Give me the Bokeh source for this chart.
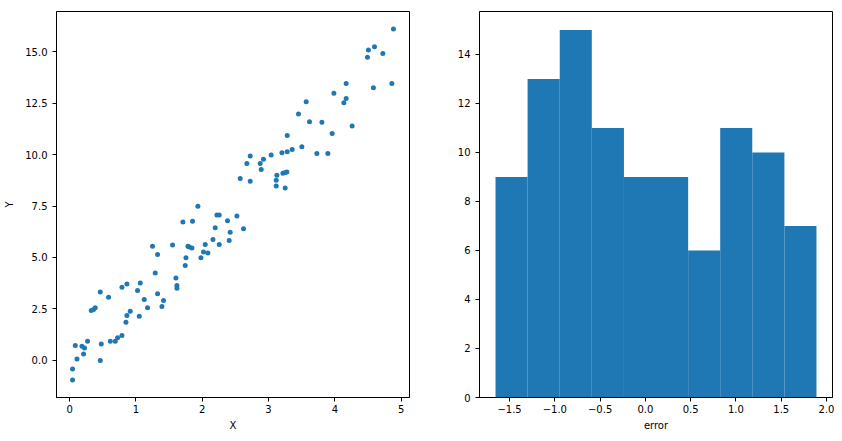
from bokeh.plotting import figure
from bokeh.layouts import row
from bokeh.models import Range1d, FixedTicker, ColumnDataSource
from bokeh.embed import file_html
from bokeh.resources import INLINE

# ---- scatter data ----
x_vals = [1.935, 1.709, 1.854, 2.222, 2.257, 2.382, 2.196, 2.422, 2.407, 2.162,
          2.257, 2.046, 2.020, 2.086, 1.981, 1.785, 1.804, 1.845, 1.553, 1.251,
          1.327, 1.755, 1.744, 1.292, 1.604, 1.619, 1.619, 1.327, 1.417, 1.393,
          1.066, 1.025, 1.126, 1.176, 1.051, 0.915, 0.865, 0.850, 0.790, 0.865,
          0.463, 0.588, 0.327, 0.362, 0.387, 0.790, 0.724, 0.689, 0.614, 0.478,
          0.463, 0.271, 0.187, 0.226, 0.086, 0.211, 0.112, 0.045, 0.045,
          4.884, 4.507, 4.598, 4.724, 4.492, 4.171, 4.582, 4.860, 3.986, 4.171,
          4.136, 3.568, 3.452, 3.618, 3.805, 4.261, 3.960, 3.282, 3.503, 3.357,
          3.282, 3.202, 3.729, 3.895, 3.040, 2.724, 2.924, 2.674, 2.875, 2.890,
          2.573, 2.724, 3.126, 3.217, 3.251, 3.277, 3.116, 3.116, 3.251, 2.523,
          2.623]
y_vals = [7.49, 6.72, 6.76, 7.06, 7.06, 6.78, 6.44, 6.23, 5.82, 5.87,
          5.63, 5.63, 5.26, 5.22, 4.98, 5.55, 5.51, 5.46, 5.60, 5.55,
          5.14, 4.98, 4.61, 4.25, 4.00, 3.64, 3.50, 3.23, 2.91, 2.61,
          3.76, 3.39, 2.95, 2.55, 2.14, 2.38, 2.18, 1.85, 3.55, 3.71,
          3.32, 3.07, 2.42, 2.47, 2.55, 1.20, 1.09, 0.92, 0.92, 0.79,
          -0.01, 0.92, 0.68, 0.60, 0.72, 0.31, 0.06, -0.42, -0.96,
          16.11, 15.09, 15.25, 14.92, 14.73, 13.46, 13.25, 13.46, 12.98, 12.73,
          12.52, 12.57, 11.97, 11.60, 11.57, 11.39, 11.03, 10.93, 10.38, 10.25,
          10.14, 10.09, 10.06, 10.06, 9.98, 9.93, 9.77, 9.57, 9.57, 9.28,
          8.84, 8.71, 9.00, 9.09, 9.13, 9.15, 8.76, 8.47, 8.38, 7.01,
          6.39]

# ---- histogram of errors ----
bin_edges = [-1.655, -1.301, -0.946, -0.592, -0.237, 0.117, 0.472, 0.826, 1.180, 1.535, 1.889]
bin_counts = [9, 13, 15, 11, 9, 9, 6, 11, 10, 7]

scatter_xticks = [0, 1, 2, 3, 4, 5]
scatter_xlabels = ["0", "1", "2", "3", "4", "5"]
scatter_yticks = [0.0, 2.5, 5.0, 7.5, 10.0, 12.5, 15.0]
scatter_ylabels = ["0.0", "2.5", "5.0", "7.5", "10.0", "12.5", "15.0"]
hist_xticks = [-1.5, -1.0, -0.5, 0.0, 0.5, 1.0, 1.5, 2.0]
hist_xlabels = ["\u22121.5", "\u22121.0", "\u22120.5", "0.0", "0.5", "1.0", "1.5", "2.0"]
hist_yticks = [0, 2, 4, 6, 8, 10, 12, 14]
hist_ylabels = ["0", "2", "4", "6", "8", "10", "12", "14"]

BLUE = "#1f77b4"
FONT = "DejaVu Sans"


def style(p, xt, xl, yt, yl):
    p.xgrid.visible = False
    p.ygrid.visible = False
    p.outline_line_color = "black"
    p.outline_line_width = 1
    p.background_fill_color = "white"
    p.border_fill_color = "white"
    for ax, ticks, labels in ((p.xaxis[0], xt, xl), (p.yaxis[0], yt, yl)):
        ax.ticker = FixedTicker(ticks=ticks)
        ax.major_label_overrides = {t: l for t, l in zip(ticks, labels)}
        ax.axis_line_color = "black"
        ax.axis_line_width = 1
        ax.major_tick_line_color = "black"
        ax.major_tick_out = 4
        ax.major_tick_in = 0
        ax.minor_tick_line_color = None
        ax.major_label_text_font = FONT
        ax.major_label_text_font_size = "10px"
        ax.major_label_text_color = "black"
        ax.axis_label_text_font = FONT
        ax.axis_label_text_font_size = "10px"
        ax.axis_label_text_font_style = "normal"
        ax.axis_label_text_color = "black"
        ax.major_label_standoff = 3
        ax.axis_label_standoff = 4
    p.yaxis[0].major_label_standoff = 5
    p.yaxis[0].axis_label_standoff = 7


# frame: 353 x 386
p1 = figure(width=449, height=441, output_backend="svg", toolbar_location=None,
            x_range=Range1d(-0.197, 5.126), y_range=Range1d(-1.81, 16.96),
            min_border_left=56, min_border_right=40, min_border_top=11, min_border_bottom=44)
src = ColumnDataSource(dict(x=x_vals, y=y_vals))
p1.scatter("x", "y", source=src, size=5, fill_color=BLUE, line_color=None)
p1.xaxis.axis_label = "X"
p1.yaxis.axis_label = "Y"
style(p1, scatter_xticks, scatter_xlabels, scatter_yticks, scatter_ylabels)

p2 = figure(width=385, height=441, output_backend="svg", toolbar_location=None,
            x_range=Range1d(-1.832, 2.066), y_range=Range1d(0, 15.75),
            min_border_left=30, min_border_right=2, min_border_top=11, min_border_bottom=44)
hsrc = ColumnDataSource(dict(left=bin_edges[:-1], right=bin_edges[1:],
                             top=bin_counts, bottom=[0] * len(bin_counts)))
p2.quad(left="left", right="right", top="top", bottom="bottom", source=hsrc,
        fill_color=BLUE, line_color=None)
p2.xaxis.axis_label = "error"
style(p2, hist_xticks, hist_xlabels, hist_yticks, hist_ylabels)

layout = row(p1, p2)
open("out.html", "w").write(file_html(layout, INLINE))
